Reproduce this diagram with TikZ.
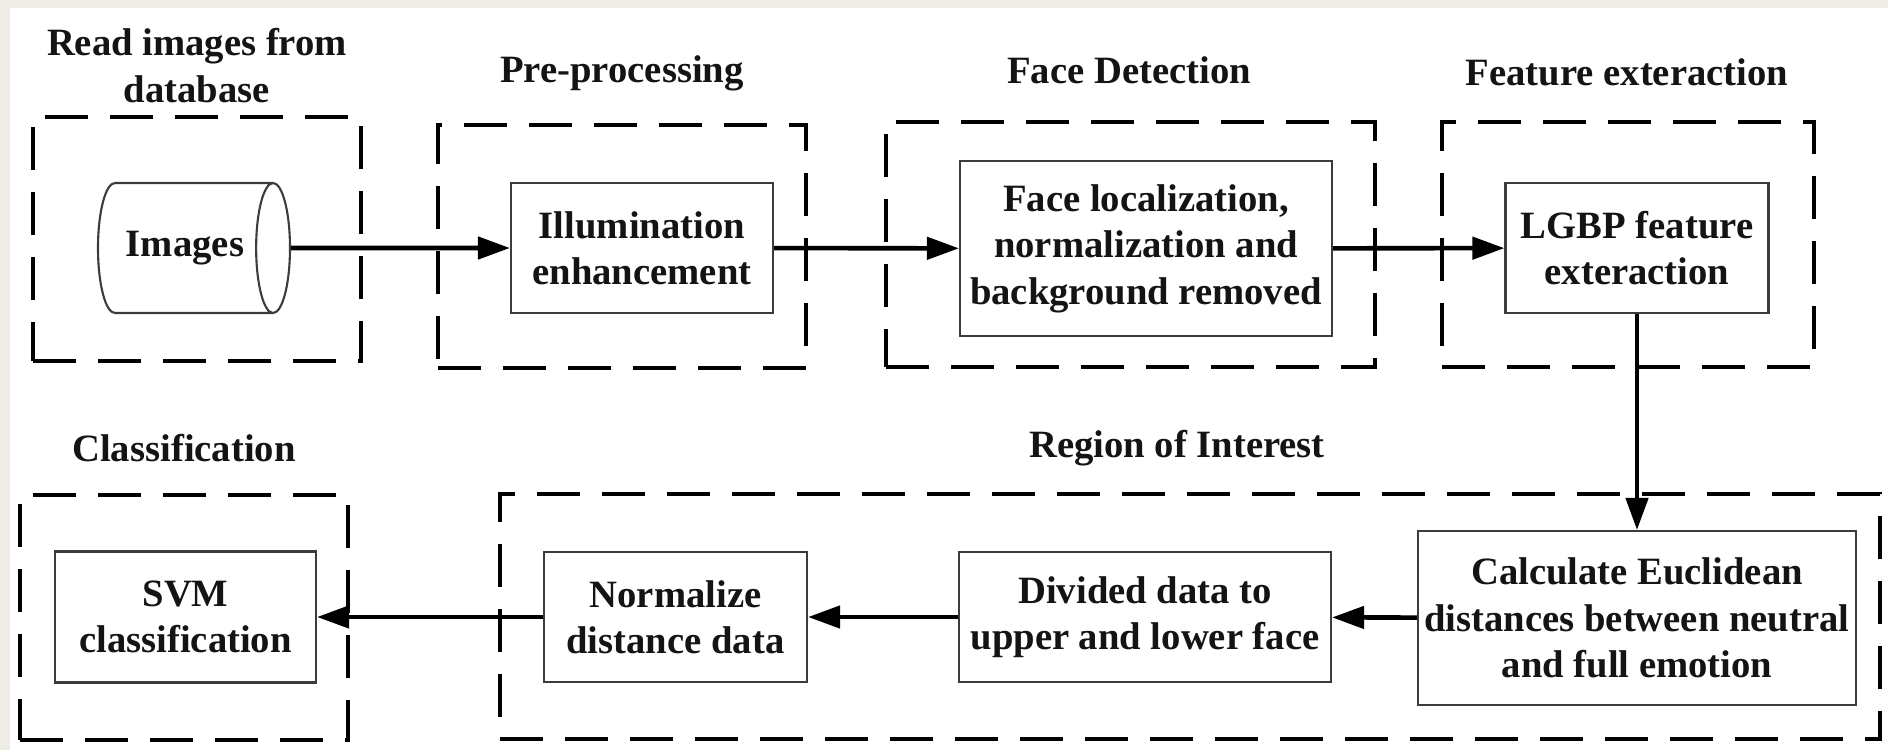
\documentclass[tikz,border=0pt]{standalone}
\usepackage{fontspec}
\setmainfont{Liberation Serif}
\usepackage{tikz}
\usetikzlibrary{shapes.geometric, arrows.meta, positioning}
\definecolor{bggray}{RGB}{238, 236, 229}
\definecolor{boxline}{RGB}{60, 60, 60}
\definecolor{textblack}{RGB}{20, 20, 20}

\begin{document}
\begin{tikzpicture}[
    stepbox/.style={rectangle, draw=boxline, line width=0.6pt, fill=white, text=textblack, font=\fontsize{11}{13.2}\selectfont\bfseries, align=center, inner sep=1pt},
    dbnode/.style={cylinder, draw=boxline, line width=0.6pt, aspect=1.0, text=textblack, font=\fontsize{11}{13.2}\selectfont\bfseries, inner sep=0pt},
    groupbox/.style={rectangle, draw=black, line width=1.2pt, dash pattern=on 4.3mm off 2.2mm},
    steptitle/.style={text=textblack, font=\fontsize{11}{13.2}\selectfont\bfseries, align=center},
    arr/.style={-{Triangle[length=3.2mm, width=2.2mm]}, line width=1.3pt, black},
]

\useasboundingbox (0,0) rectangle (18.88,-7.5);
\fill[bggray] (0,0) rectangle (18.88,-7.5);
\fill[white] (0.10,-0.08) rectangle (18.88,-7.5);

\node[groupbox, minimum width=3.28cm, minimum height=2.44cm] (grp1) at (1.97,-2.39) {};
\node[groupbox, minimum width=3.68cm, minimum height=2.43cm] (grp2) at (6.22,-2.465) {};
\node[groupbox, minimum width=4.89cm, minimum height=2.45cm] (grp3) at (11.305,-2.445) {};
\node[groupbox, minimum width=3.72cm, minimum height=2.45cm] (grp4) at (16.28,-2.445) {};
\node[groupbox, minimum width=3.28cm, minimum height=2.45cm] (grp5) at (1.84,-6.175) {};
\node[groupbox, minimum width=13.80cm, minimum height=2.45cm] (grp6) at (11.90,-6.165) {};

\node[steptitle] (t1) at (1.97,-0.655) {Read images from\\database};
\node[steptitle] (t2) at (6.22,-0.73) {Pre-processing};
\node[steptitle] (t3) at (11.29,-0.70) {Face Detection};
\node[steptitle] (t4) at (16.27,-0.72) {Feature exteraction};
\node[steptitle] (t5) at (1.84,-4.48) {Classification};
\node[steptitle] (t6) at (11.77,-4.48) {Region of Interest};

\node[dbnode, minimum height=1.92cm, minimum width=1.30cm] (db) at (1.85,-2.48) {Images};
\node[stepbox, minimum width=2.62cm, minimum height=1.30cm] (illum) at (6.42,-2.48) {Illumination\\enhancement};
\node[stepbox, minimum width=3.72cm, minimum height=1.75cm] (face) at (11.46,-2.485) {Face localization,\\normalization and\\background removed};
\node[stepbox, minimum width=2.63cm, minimum height=1.30cm] (lgbp) at (16.37,-2.48) {LGBP feature\\exteraction};

\node[stepbox, minimum width=4.38cm, minimum height=1.74cm] (calc) at (16.37,-6.18) {Calculate Euclidean\\distances between neutral\\and full emotion};
\node[stepbox, minimum width=3.72cm, minimum height=1.30cm] (divide) at (11.45,-6.17) {Divided data to\\upper and lower face};
\node[stepbox, minimum width=2.63cm, minimum height=1.30cm] (norm) at (6.755,-6.17) {Normalize\\distance data};
\node[stepbox, minimum width=2.61cm, minimum height=1.31cm] (svm) at (1.855,-6.17) {SVM\\classification};

\draw[arr] (db) -- (illum);
\draw[arr] (illum) -- (face);
\draw[arr] (face) -- (lgbp);
\draw[arr] (lgbp) -- (calc);
\draw[arr] (calc) -- (divide);
\draw[arr] (divide) -- (norm);
\draw[arr] (norm) -- (svm);

\end{tikzpicture}
\end{document}
